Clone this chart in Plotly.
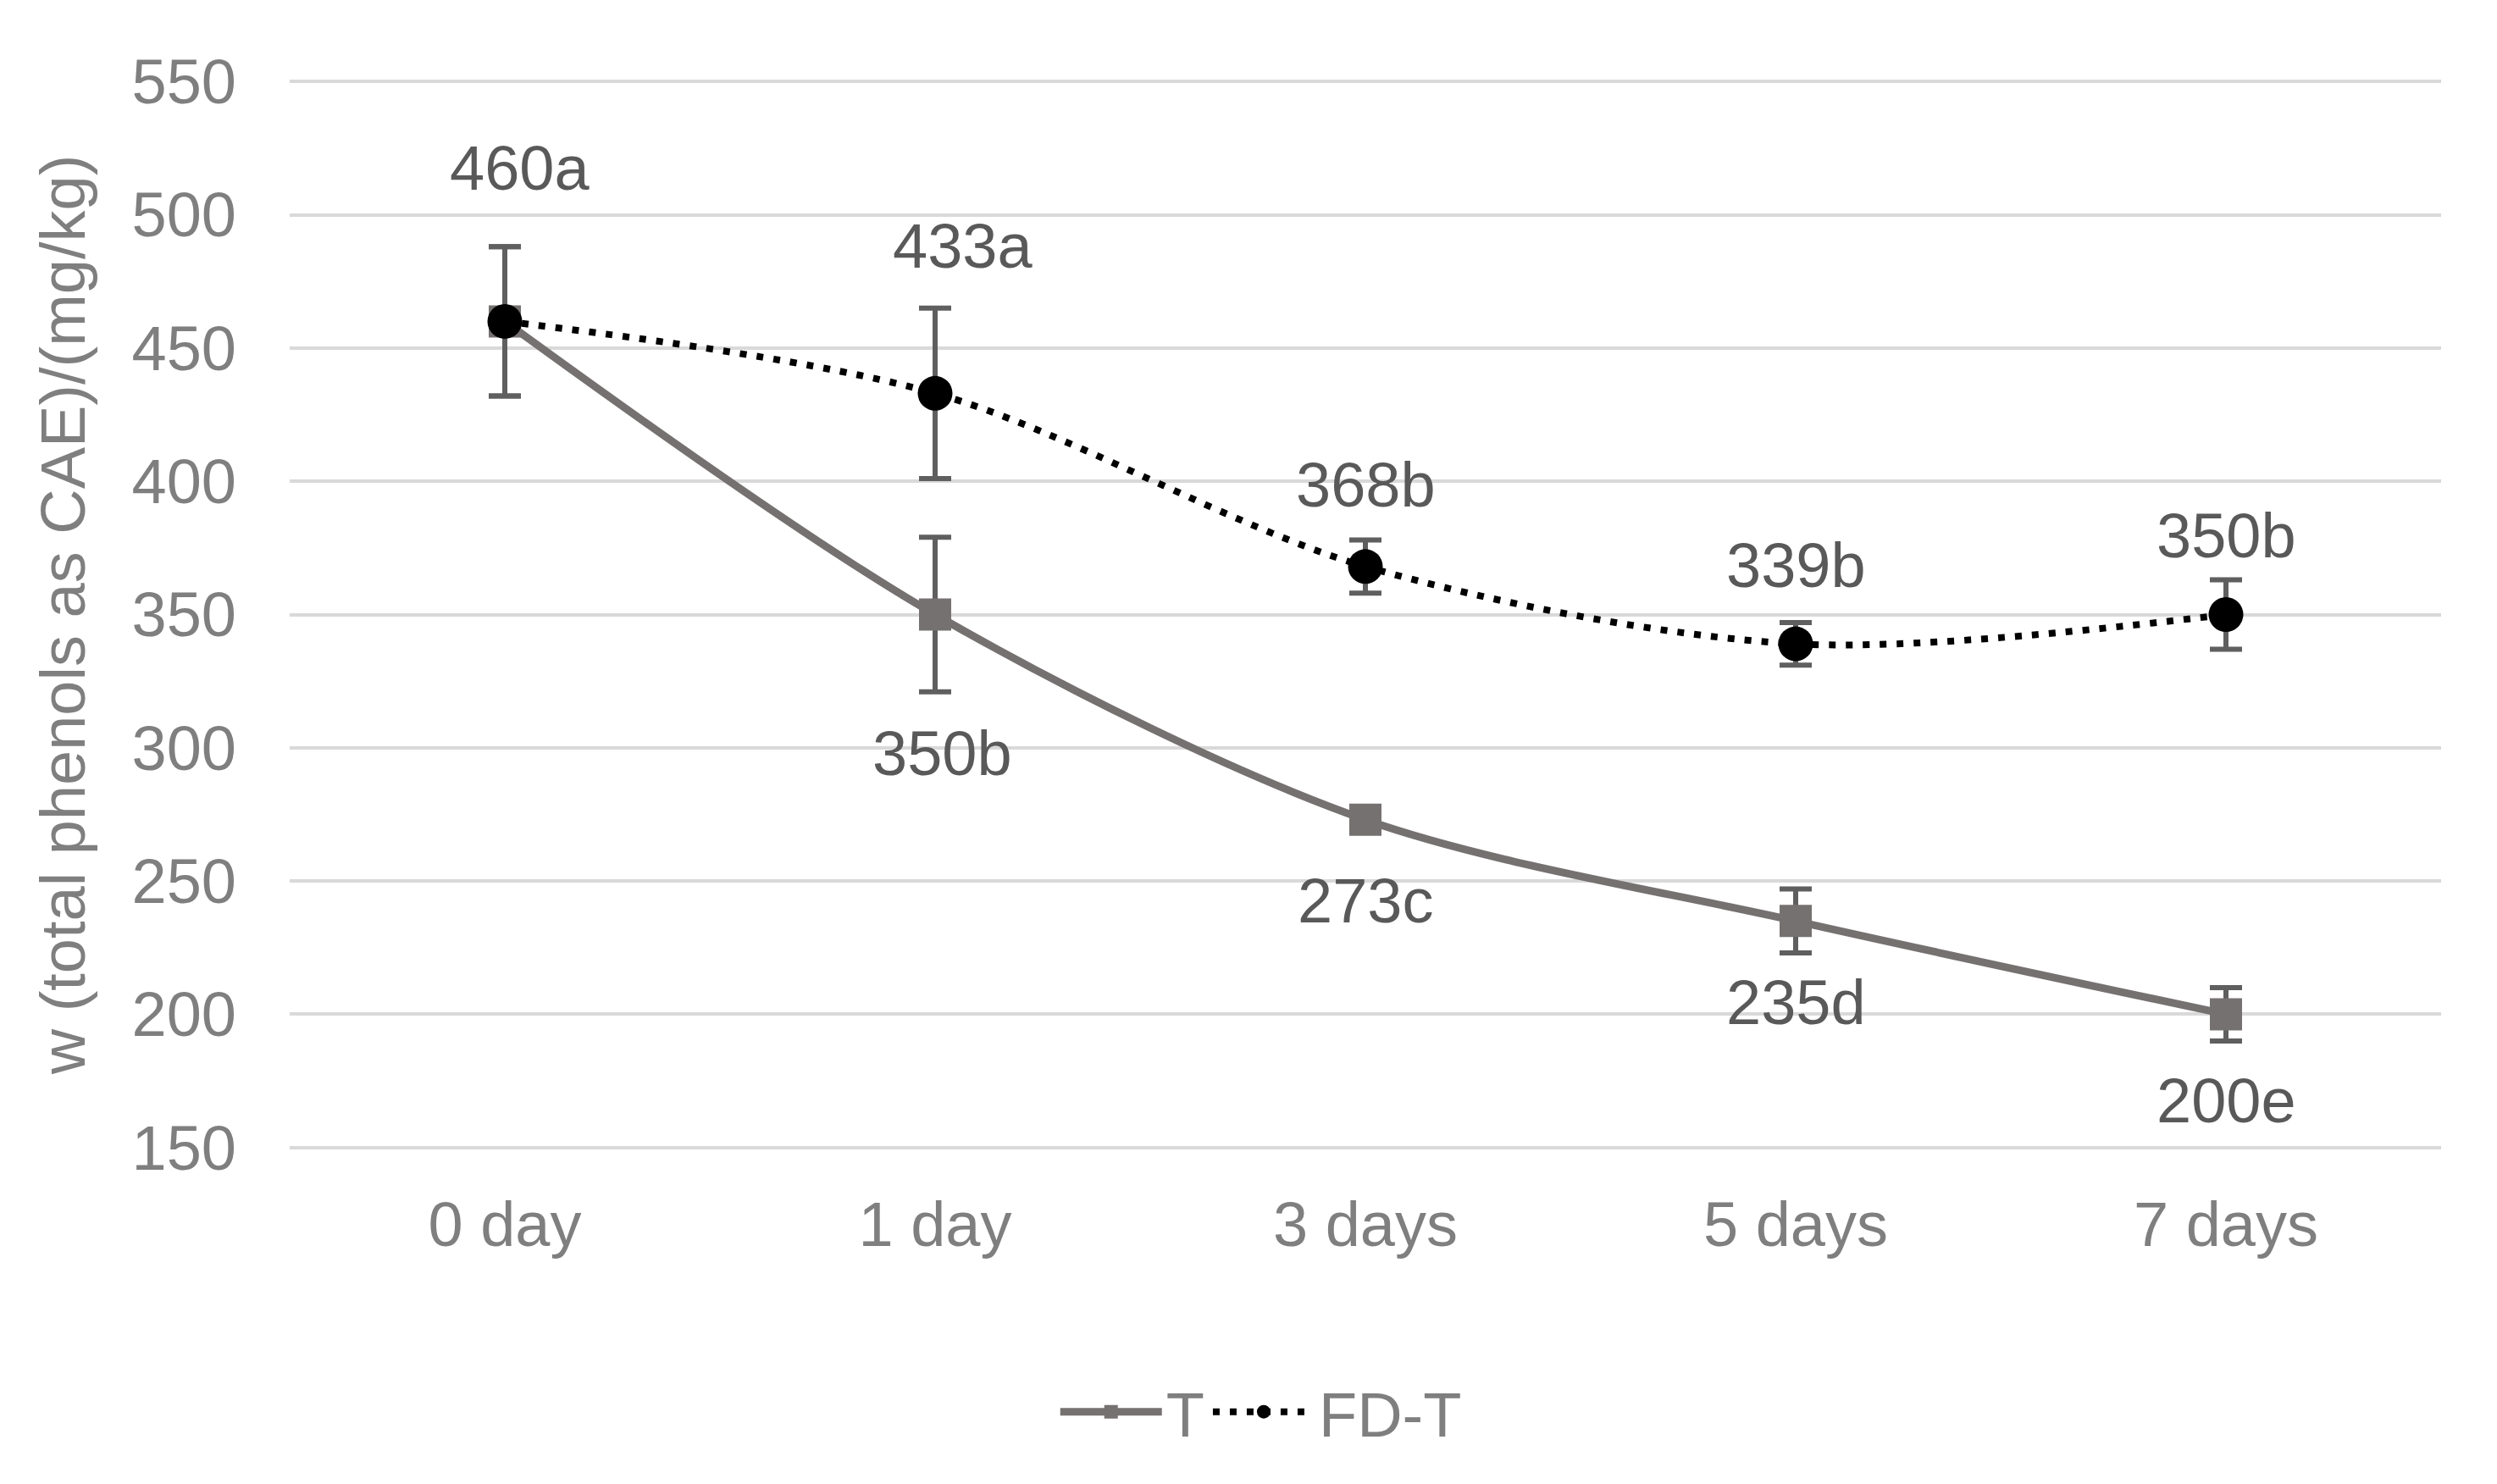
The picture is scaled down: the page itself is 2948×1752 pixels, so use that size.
import plotly.graph_objects as go

categories = ["0 day", "1 day", "3 days", "5 days", "7 days"]
t_values = [460, 350, 273, 235, 200]
t_errors = [28, 29, 3, 12, 10]
t_labels = ["", "350b", "273c", "235d", "200e"]
fdt_values = [460, 433, 368, 339, 350]
fdt_errors = [28, 32, 10, 8, 13]
fdt_labels = ["460a", "433a", "368b", "339b", "350b"]
y_ticks = [150, 200, 250, 300, 350, 400, 450, 500, 550]

# label offsets (pixels) - styling
fdt_yshift = [181, 174, 96, 93, 93]
fdt_xshift = [17, 32, 0, 0, 0]
t_yshift = [0, -164, -96, -96, -102]
t_xshift = [0, 8, 0, 0, 0]

FONT = "Liberation Sans, Arial, sans-serif"
FS = 74
ERR_COLOR = "#5f5f5f"

fig = go.Figure()
fig.add_trace(go.Scatter(
    x=categories, y=t_values, name="T", mode="lines+markers",
    line=dict(color="#767171", width=9, shape="spline", smoothing=0.9),
    marker=dict(symbol="square", size=38, color="#767171"),
    error_y=dict(type="data", array=t_errors, visible=True, color=ERR_COLOR,
                 thickness=6, width=19),
))
fig.add_trace(go.Scatter(
    x=categories, y=fdt_values, name="FD-T", mode="lines+markers",
    line=dict(color="#000000", width=8, dash="8px,12px", shape="spline", smoothing=0.9),
    marker=dict(symbol="circle", size=41, color="#000000"),
    error_y=dict(type="data", array=fdt_errors, visible=True, color=ERR_COLOR,
                 thickness=6, width=19),
))

for c, v, lab, ys, xs in zip(categories, fdt_values, fdt_labels, fdt_yshift, fdt_xshift):
    if lab:
        fig.add_annotation(x=c, y=v, text=lab, showarrow=False, yshift=ys, xshift=xs,
                           font=dict(family=FONT, size=FS, color="#595959"))
for c, v, lab, ys, xs in zip(categories, t_values, t_labels, t_yshift, t_xshift):
    if lab:
        fig.add_annotation(x=c, y=v, text=lab, showarrow=False, yshift=ys, xshift=xs,
                           font=dict(family=FONT, size=FS, color="#595959"))

fig.update_layout(
    width=2948, height=1752,
    paper_bgcolor="white", plot_bgcolor="white",
    margin=dict(l=342, r=66, t=94, b=395),
    font=dict(family=FONT, size=FS, color="#7f7f7f"),
    showlegend=True,
    legend=dict(orientation="h", xref="container", yref="container",
                x=0.505, xanchor="center", y=0.0485, yanchor="middle",
                font=dict(family=FONT, size=FS, color="#7f7f7f"),
                itemwidth=120, tracegroupgap=0),
)
fig.update_xaxes(
    type="category", categoryorder="array", categoryarray=categories,
    range=[-0.5, 4.5],
    showgrid=False, zeroline=False, showline=False,
    tickfont=dict(family=FONT, size=FS, color="#7f7f7f"),
    ticks="", ticklabelstandoff=39,
)
fig.update_yaxes(
    range=[149.3, 550.7], tickvals=y_ticks,
    showgrid=True, gridcolor="#d9d9d9", gridwidth=4,
    zeroline=False, showline=False, ticks="",
    tickfont=dict(family=FONT, size=FS, color="#7f7f7f"),
    ticklabelstandoff=62,
    title=dict(text="w (total phenols as CAE)/(mg/kg)", standoff=30,
               font=dict(family=FONT, size=FS, color="#7f7f7f")),
)

fig.write_html("out.html", config={"displayModeBar": False},
               post_script="document.body.style.margin='0';")
